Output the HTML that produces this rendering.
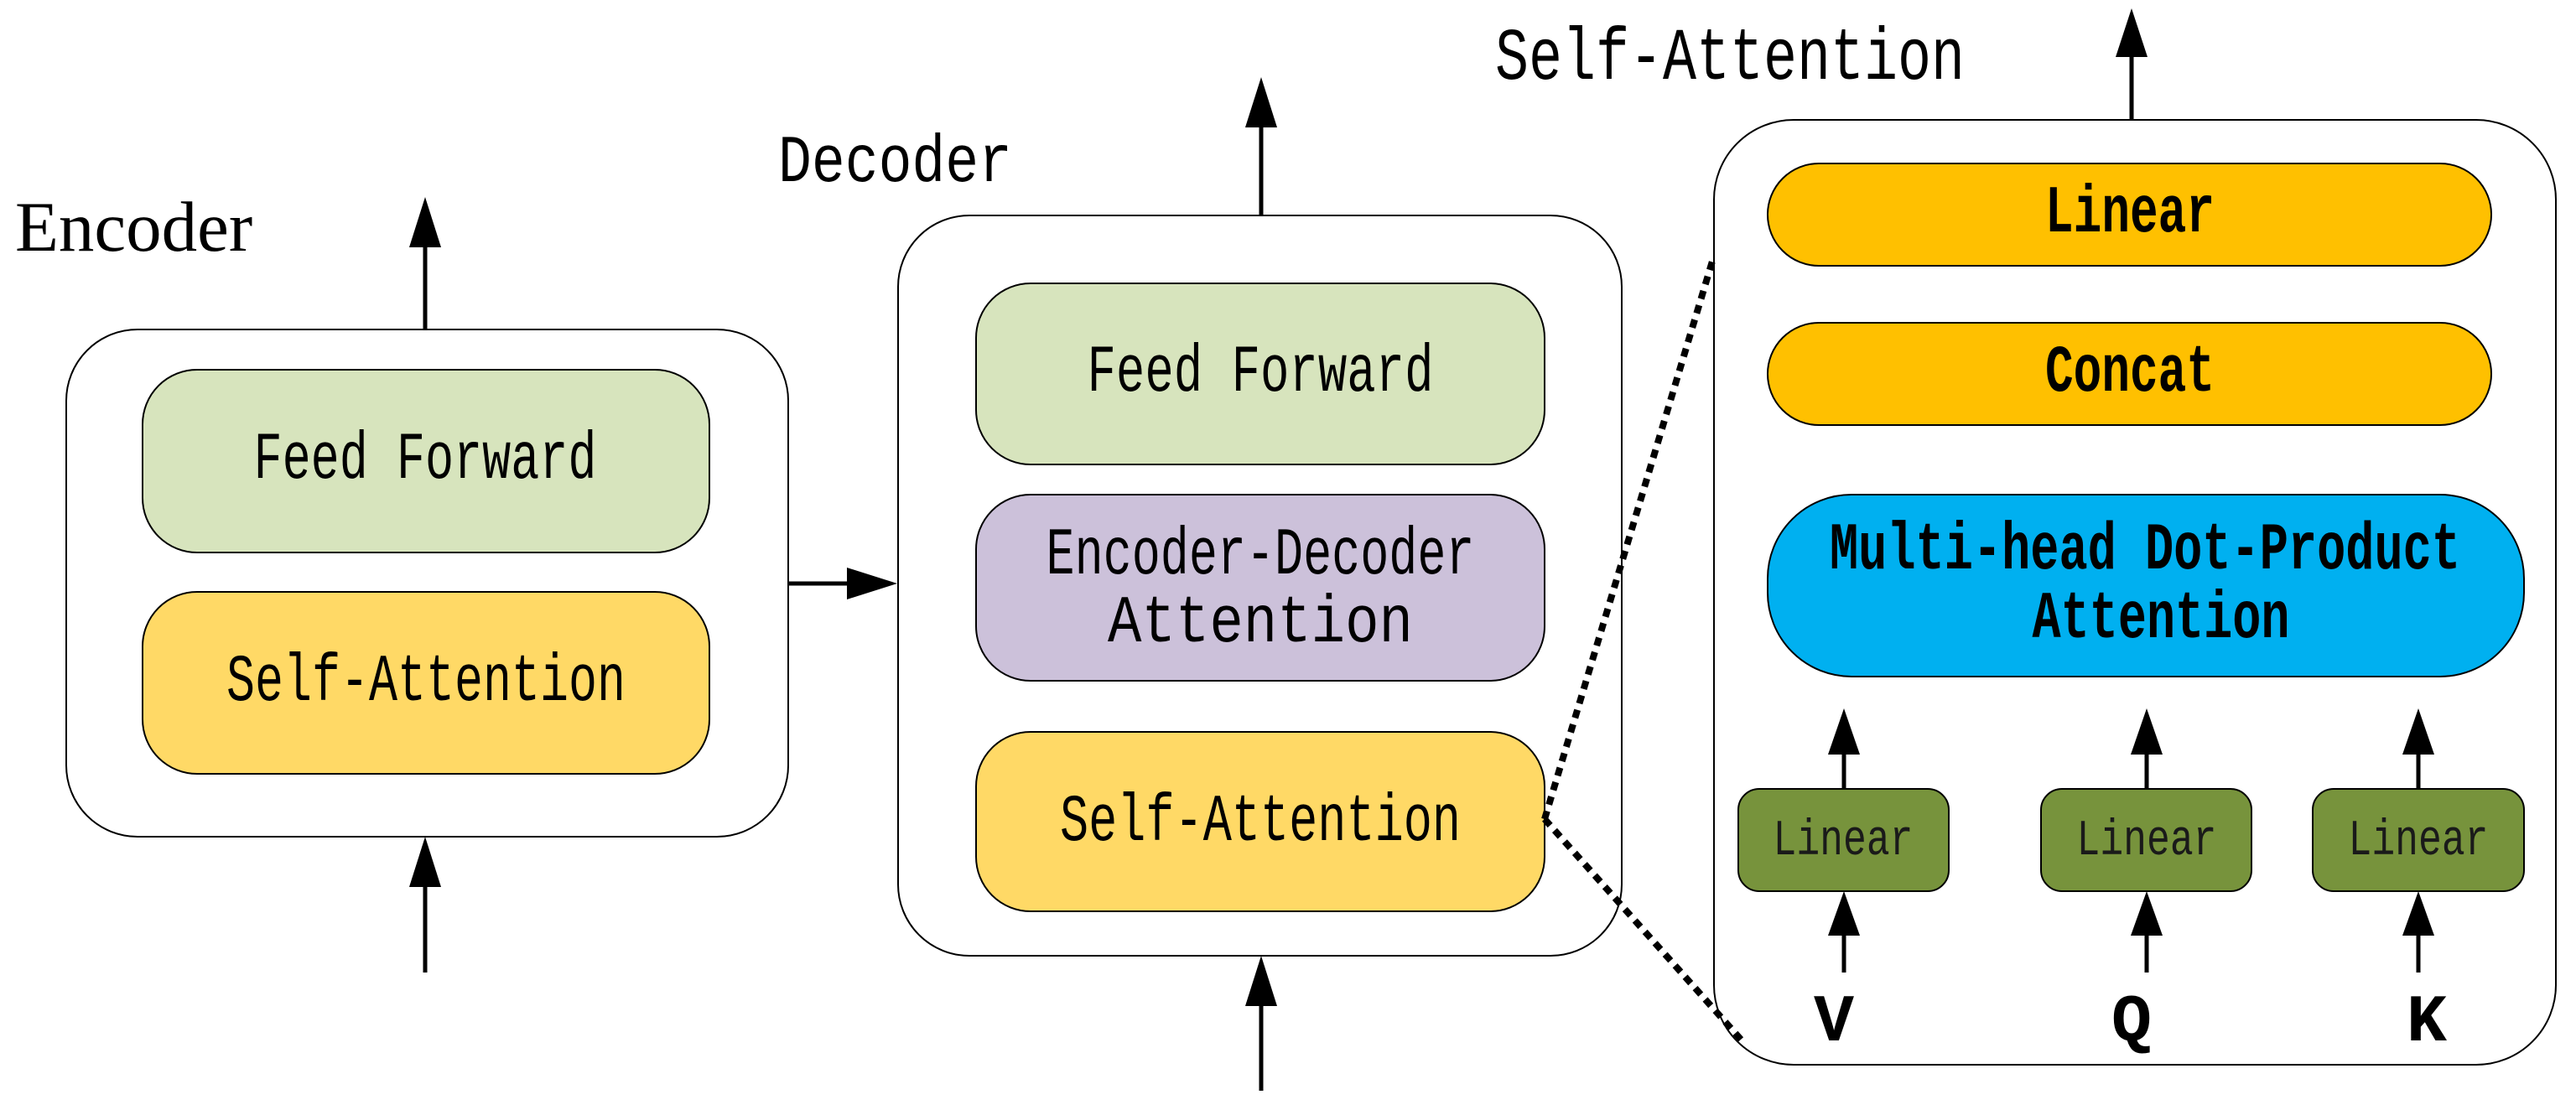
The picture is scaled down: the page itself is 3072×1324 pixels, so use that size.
<!DOCTYPE html>
<html><head><style>html,body{margin:0;padding:0;background:#fff}svg{display:block}</style></head>
<body>
<svg width="3072" height="1324" viewBox="0 0 3072 1324" xmlns="http://www.w3.org/2000/svg">
<g stroke="#000" stroke-width="2" font-family="'Liberation Mono', monospace">
<!-- Encoder -->
<rect x="79" y="393" width="861" height="605" rx="85" fill="#fff"/>
<rect x="170" y="441" width="676" height="218" rx="65" fill="#D7E4BD"/>
<rect x="170" y="706" width="676" height="217" rx="65" fill="#FFD966"/>
<!-- Decoder -->
<rect x="1071" y="257" width="863" height="883" rx="85" fill="#fff"/>
<rect x="1164" y="338" width="678" height="216" rx="65" fill="#D7E4BD"/>
<rect x="1164" y="590" width="678" height="222" rx="65" fill="#CCC1DA"/>
<rect x="1164" y="873" width="678" height="214" rx="65" fill="#FFD966"/>
<!-- Panel -->
<rect x="2044" y="143" width="1004" height="1127" rx="95" fill="#fff"/>
<rect x="2108" y="195" width="863" height="122" rx="61" fill="#FFC000"/>
<rect x="2108" y="385" width="863" height="122" rx="61" fill="#FFC000"/>
<rect x="2108" y="590" width="902" height="217" rx="100" fill="#00B0F0"/>
<rect x="2073" y="941" width="251" height="122" rx="25" fill="#77933C"/>
<rect x="2434" y="941" width="251" height="122" rx="25" fill="#77933C"/>
<rect x="2758" y="941" width="252" height="122" rx="25" fill="#77933C"/>
</g>
<!-- arrows -->
<g stroke="#000" stroke-width="5">
<line x1="507" y1="393" x2="507" y2="290"/>
<line x1="507" y1="1160" x2="507" y2="1055"/>
<line x1="940" y1="696" x2="1020" y2="696"/>
<line x1="1504" y1="257" x2="1504" y2="150"/>
<line x1="1504" y1="1301" x2="1504" y2="1195"/>
<line x1="2542" y1="143" x2="2542" y2="60"/>
<line x1="2199" y1="941" x2="2199" y2="895"/>
<line x1="2560" y1="941" x2="2560" y2="895"/>
<line x1="2884" y1="941" x2="2884" y2="895"/>
<line x1="2199" y1="1160" x2="2199" y2="1110"/>
<line x1="2560" y1="1160" x2="2560" y2="1110"/>
<line x1="2884" y1="1160" x2="2884" y2="1110"/>
</g>
<g fill="#000">
<polygon points="507,235 488,295 526,295"/>
<polygon points="507,998 488,1058 526,1058"/>
<polygon points="1070,696 1010,677 1010,715"/>
<polygon points="1504,92 1485,152 1523,152"/>
<polygon points="1504,1140 1485,1200 1523,1200"/>
<polygon points="2542,10 2523,68 2561,68"/>
<polygon points="2199,845 2180,900 2218,900"/>
<polygon points="2560,845 2541,900 2579,900"/>
<polygon points="2884,845 2865,900 2903,900"/>
<polygon points="2199,1063 2180,1116 2218,1116"/>
<polygon points="2560,1063 2541,1116 2579,1116"/>
<polygon points="2884,1063 2865,1116 2903,1116"/>
</g>
<!-- dotted -->
<g stroke="#000" stroke-width="8" stroke-dasharray="10 8" fill="none">
<line x1="1842" y1="977" x2="2044" y2="305"/>
<line x1="1842" y1="977" x2="2078" y2="1242"/>
</g>
<!-- text -->
<g font-family="'Liberation Mono', monospace" font-size="80" fill="#000" text-anchor="middle">
<text x="507" y="570" textLength="409" lengthAdjust="spacingAndGlyphs">Feed Forward</text>
<text x="508" y="835" textLength="476" lengthAdjust="spacingAndGlyphs">Self-Attention</text>
<text x="1503" y="466" textLength="413" lengthAdjust="spacingAndGlyphs">Feed Forward</text>
<text x="1503" y="684" textLength="511" lengthAdjust="spacingAndGlyphs">Encoder-Decoder</text>
<text x="1503" y="765" textLength="364" lengthAdjust="spacingAndGlyphs">Attention</text>
<text x="1503" y="1002" textLength="478" lengthAdjust="spacingAndGlyphs">Self-Attention</text>
<text x="928" y="216" text-anchor="start" textLength="279" lengthAdjust="spacingAndGlyphs">Decoder</text>
<text x="2063" y="94" font-size="88" textLength="560" lengthAdjust="spacingAndGlyphs">Self-Attention</text>
<g font-weight="bold">
<text x="2540" y="276" textLength="202" lengthAdjust="spacingAndGlyphs">Linear</text>
<text x="2540" y="466" textLength="202" lengthAdjust="spacingAndGlyphs">Concat</text>
<text x="2558" y="678" textLength="752" lengthAdjust="spacingAndGlyphs">Multi-head Dot-Product</text>
<text x="2577" y="760" textLength="307" lengthAdjust="spacingAndGlyphs">Attention</text>
<text x="2187" y="1241">V</text>
<text x="2542" y="1241">Q</text>
<text x="2894" y="1241">K</text>
</g>
<g font-size="60" fill="#1a1a1a">
<text x="2198" y="1019" textLength="167" lengthAdjust="spacingAndGlyphs">Linear</text>
<text x="2560" y="1019" textLength="167" lengthAdjust="spacingAndGlyphs">Linear</text>
<text x="2884" y="1019" textLength="167" lengthAdjust="spacingAndGlyphs">Linear</text>
</g>
</g>
<text x="18" y="299" font-family="'Liberation Serif', serif" font-size="85" fill="#000">Encoder</text>
</svg>
</body></html>
